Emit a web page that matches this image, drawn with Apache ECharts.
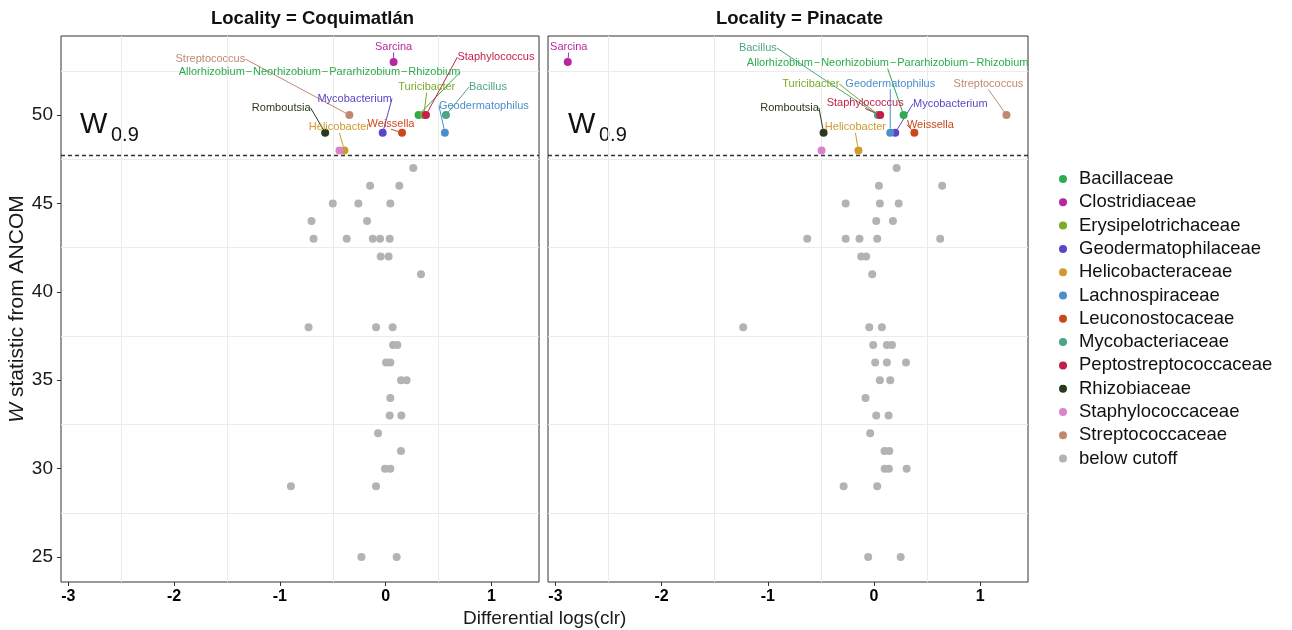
<!DOCTYPE html>
<html>
<head>
<meta charset="utf-8">
<script src="https://cdn.jsdelivr.net/npm/echarts@6/dist/echarts.min.js"></script>
<style>
  html, body { margin: 0; padding: 0; background: #fff; }
  #chart { width: 1292px; height: 630px; }
</style>
</head>
<body>
<div id="chart"></div>
<script>
const families = [
  "Bacillaceae", "Clostridiaceae", "Erysipelotrichaceae", "Geodermatophilaceae",
  "Helicobacteraceae", "Lachnospiraceae", "Leuconostocaceae", "Mycobacteriaceae",
  "Peptostreptococcaceae", "Rhizobiaceae", "Staphylococcaceae", "Streptococcaceae"
];
const familyColors = [
  "#2eaa4f", "#b5289f", "#7aab2a", "#5a45c8", "#cf9a30", "#4a8fcc",
  "#c9481f", "#4da584", "#c41f4a", "#2b3a1c", "#d884c8", "#c08872"
];
const cutoffName = "below cutoff";
const cutoffColor = "#b3b3b3";

const allo = "Allorhizobium\u200a\u2212\u200aNeorhizobium\u200a\u2212\u200aPararhizobium\u200a\u2212\u200aRhizobium";

// Coquimatlán: genera above the W cutoff
const coqGenus = ["Sarcina", "Streptococcus", allo, "Turicibacter", "Staphylococcus", "Bacillus",
  "Geodermatophilus", "Mycobacterium", "Weissella", "Romboutsia", "Helicobacter", ""];
const coqFamily = ["Clostridiaceae", "Streptococcaceae", "Bacillaceae", "Erysipelotrichaceae",
  "Peptostreptococcaceae", "Mycobacteriaceae", "Lachnospiraceae", "Geodermatophilaceae",
  "Leuconostocaceae", "Rhizobiaceae", "Helicobacteraceae", "Staphylococcaceae"];
const coqClr = [0.075, -0.343, 0.311, 0.36, 0.381, 0.57, 0.56, -0.028, 0.155, -0.572, -0.39, -0.437];
const coqW = [53, 50, 50, 50, 50, 50, 49, 49, 49, 49, 48, 48];

// Coquimatlán: below cutoff
const coqGrayW = [47, 46, 46, 45, 45, 45, 44, 44, 43, 43, 43, 43, 43, 42, 42, 41,
  38, 38, 38, 37, 37, 36, 36, 35, 35, 34, 33, 33, 32, 31, 30, 30, 29, 29, 25, 25];
const coqGrayClr = [0.261, -0.147, 0.129, -0.5, -0.258, 0.044, -0.701, -0.176, -0.682, -0.368, -0.122, -0.053, 0.038,
  -0.047, 0.028, 0.334, -0.729, -0.091, 0.066, 0.07, 0.11, 0.004, 0.044, 0.145, 0.198, 0.044, 0.038, 0.148,
  -0.072, 0.145, -0.006, 0.044, -0.896, -0.091, -0.229, 0.104];

// Pinacate: genera above the W cutoff
const pinGenus = ["Sarcina", "Bacillus", "Turicibacter", "Staphylococcus", allo, "Streptococcus",
  "Geodermatophilus", "Mycobacterium", "Weissella", "Romboutsia", "Helicobacter", ""];
const pinFamily = ["Clostridiaceae", "Mycobacteriaceae", "Erysipelotrichaceae", "Peptostreptococcaceae",
  "Bacillaceae", "Streptococcaceae", "Lachnospiraceae", "Geodermatophilaceae", "Leuconostocaceae",
  "Rhizobiaceae", "Helicobacteraceae", "Staphylococcaceae"];
const pinClr = [-2.884, 0.036, 0.045, 0.058, 0.279, 1.247, 0.153, 0.2, 0.38, -0.475, -0.147, -0.494];
const pinW = [53, 50, 50, 50, 50, 50, 49, 49, 49, 49, 48, 48];

// Pinacate: below cutoff
const pinGrayW = [47, 46, 46, 45, 45, 45, 44, 44, 43, 43, 43, 43, 43, 42, 42, 41, 38, 38, 38,
  37, 37, 37, 36, 36, 36, 35, 35, 34, 33, 33, 32, 31, 31, 30, 30, 30, 29, 29, 25, 25];
const pinGrayClr = [0.213, 0.046, 0.642, -0.267, 0.055, 0.232, 0.021, 0.178, -0.629, -0.267, -0.137, 0.03, 0.623,
  -0.121, -0.074, -0.017, -1.232, -0.045, 0.074, -0.008, 0.121, 0.169, 0.011, 0.121, 0.301, 0.055, 0.153,
  -0.08, 0.021, 0.137, -0.036, 0.099, 0.144, 0.1, 0.14, 0.307, -0.286, 0.03, -0.055, 0.251];

const cutoffW = 47.7;
const xTicks = [-3, -2, -1, 0, 1];
const yTicks = [25, 30, 35, 40, 45, 50];
const xGrid = [-2.5, -1.5, -0.5, 0.5];
const yGrid = [27.5, 32.5, 37.5, 42.5, 47.5, 52.5];

// label offsets (px) from each point, ggrepel-style
const coqShift = {
  "Sarcina": [0, -15], "Streptococcus": [-139, -56], [allo]: [-99, -43], "Turicibacter": [3, -28],
  "Staphylococcus": [70, -58], "Bacillus": [42, -28], "Geodermatophilus": [39, -27],
  "Mycobacterium": [-28, -34], "Weissella": [-11, -9], "Romboutsia": [-44, -25], "Helicobacter": [-5, -23]
};
const pinShift = {
  "Sarcina": [1, -15], "Bacillus": [-120, -67], [allo]: [-16, -52], "Turicibacter": [-68, -31],
  "Staphylococcus": [-15, -12], "Streptococcus": [-18, -31], "Geodermatophilus": [0, -49],
  "Mycobacterium": [55, -29], "Weissella": [16, -8], "Romboutsia": [-34, -25], "Helicobacter": [-3, -23]
};

const font = "Liberation Sans, Arial, sans-serif";

function panelSeries(gi, genus, family, clr, w, grayClr, grayW, shift) {
  const out = [];
  out.push({
    type: "scatter", xAxisIndex: gi, yAxisIndex: gi, data: [], z: 1, silent: true,
    markLine: {
      z: 1, silent: true, symbol: "none", label: { show: false },
      lineStyle: { color: "#ebebeb", type: "solid", width: 1 },
      data: xGrid.map((v) => ({ xAxis: v })).concat(yGrid.map((v) => ({ yAxis: v })))
    }
  });
  out.push({
    name: cutoffName, type: "scatter", xAxisIndex: gi, yAxisIndex: gi, z: 3,
    symbolSize: 8, itemStyle: { color: cutoffColor, opacity: 1 },
    data: grayClr.map((x, i) => [x, grayW[i]]),
    markLine: {
      z: 2, silent: true, symbol: "none", label: { show: false },
      lineStyle: { color: "#333", type: [4, 3], width: 1.4 },
      data: [{ yAxis: cutoffW }]
    }
  });
  families.forEach((fam, k) => {
    const data = [];
    genus.forEach((g, i) => {
      if (family[i] === fam) data.push({ name: g, value: [clr[i], w[i]] });
    });
    out.push({
      name: fam, type: "scatter", xAxisIndex: gi, yAxisIndex: gi, z: 4,
      symbolSize: 8, itemStyle: { color: familyColors[k], opacity: 1 },
      data,
      label: {
        show: true, position: "inside", formatter: (p) => p.name,
        color: familyColors[k], fontSize: 11, fontFamily: font,
        textBorderWidth: 0, textBorderColor: "transparent"
      },
      labelLine: { show: true, lineStyle: { color: familyColors[k], width: 1 } },
      labelLayout: (p) => {
        const s = shift[p.text] || [0, 0];
        return { dx: s[0], dy: s[1], hideOverlap: false };
      }
    });
  });
  return out;
}

function xAxisOpt(gi) {
  return {
    type: "value", gridIndex: gi, min: -3.07, max: 1.45,
    splitLine: { show: false }, axisLine: { show: false, onZero: false },
    axisTick: { show: true, customValues: xTicks, length: 4, lineStyle: { color: "#333" } },
    axisLabel: {
      customValues: xTicks, margin: 7, fontSize: 16, fontWeight: "bold",
      color: "#000", fontFamily: font
    }
  };
}

function yAxisOpt(gi) {
  const ax = {
    type: "value", gridIndex: gi, min: 23.59, max: 54.47,
    splitLine: { show: false }, axisLine: { show: false, onZero: false },
    axisTick: { show: gi === 0, customValues: yTicks, length: 4, lineStyle: { color: "#333" } },
    axisLabel: {
      show: gi === 0, customValues: yTicks, margin: 8, fontSize: 19,
      color: "#1a1a1a", fontFamily: font
    }
  };
  if (gi === 0) {
    ax.name = "{it|W} statistic from ANCOM";
    ax.nameLocation = "middle";
    ax.nameGap = 31;
    ax.nameTextStyle = {
      fontSize: 21, color: "#1a1a1a", fontFamily: font,
      rich: { it: { fontStyle: "italic", fontSize: 21, fontFamily: font, color: "#1a1a1a" } }
    };
  }
  return ax;
}

const chart = echarts.init(document.getElementById("chart"), null, { renderer: "canvas" });

const legendNames = families.concat([cutoffName]);

chart.setOption({
  animation: false,
  backgroundColor: "#fff",
  textStyle: { fontFamily: font },
  grid: [
    { left: 61, top: 36, width: 478, height: 546, show: true, borderColor: "#333", borderWidth: 1, backgroundColor: "#fff" },
    { left: 548, top: 36, width: 480, height: 546, show: true, borderColor: "#333", borderWidth: 1, backgroundColor: "#fff" }
  ],
  xAxis: [xAxisOpt(0), xAxisOpt(1)],
  yAxis: [yAxisOpt(0), yAxisOpt(1)],
  legend: {
    data: legendNames, orient: "vertical", left: 1054, top: 164,
    icon: "circle", itemWidth: 8, itemHeight: 8, itemGap: 3.3,
    textStyle: { fontSize: 18.5, color: "#111", fontFamily: font, lineHeight: 20, padding: [0, 0, 0, 7] },
    selectedMode: false
  },
  series: panelSeries(0, coqGenus, coqFamily, coqClr, coqW, coqGrayClr, coqGrayW, coqShift)
    .concat(panelSeries(1, pinGenus, pinFamily, pinClr, pinW, pinGrayClr, pinGrayW, pinShift)),
  graphic: [
    { type: "text", left: 211, top: 9, style: { text: "Locality = Coquimatlán", fontSize: 18.5, fontWeight: "bold", fontFamily: font, fill: "#111" } },
    { type: "text", left: 716, top: 9, style: { text: "Locality = Pinacate", fontSize: 18.5, fontWeight: "bold", fontFamily: font, fill: "#111" } },
    { type: "text", left: 80, top: 110, style: { text: "W", fontSize: 29, fontFamily: font, fill: "#111" } },
    { type: "text", left: 111, top: 125, style: { text: "0.9", fontSize: 20, fontFamily: font, fill: "#111" } },
    { type: "text", left: 568, top: 110, style: { text: "W", fontSize: 29, fontFamily: font, fill: "#111" } },
    { type: "text", left: 599, top: 125, style: { text: "0.9", fontSize: 20, fontFamily: font, fill: "#111" } },
    { type: "text", left: 463, top: 609, style: { text: "Differential logs(clr)", fontSize: 19, fontFamily: font, fill: "#1a1a1a" } }
  ]
});
</script>
</body>
</html>
